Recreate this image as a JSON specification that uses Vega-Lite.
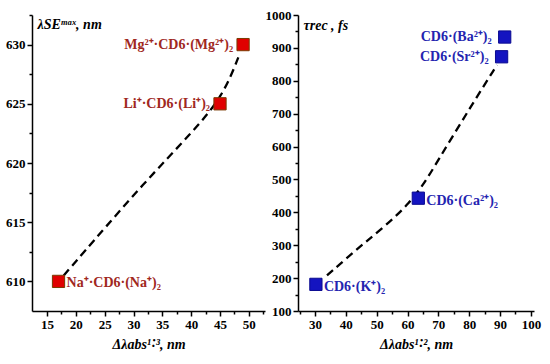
{
  "$schema": "https://vega.github.io/schema/vega-lite/v6.json",
  "padding": {"left": 5, "top": 9, "right": 5, "bottom": 3},
  "spacing": 0,
  "datasets": {
    "leftPts": [
      {"x": 17, "y": 610, "ion": "Na", "label": "Na⁺·CD6·(Na⁺)₂"},
      {"x": 45, "y": 625, "ion": "Li", "label": "Li⁺·CD6·(Li⁺)₂"},
      {"x": 49, "y": 630, "ion": "Mg", "label": "Mg²⁺·CD6·(Mg²⁺)₂"}
    ],
    "leftFit": [
      {"x": 17.9, "y": 610.5},
      {"x": 22.5, "y": 613.1},
      {"x": 31.8, "y": 618.3},
      {"x": 40, "y": 622.5},
      {"x": 45.5, "y": 625.6},
      {"x": 48.4, "y": 629.2}
    ],
    "rightPts": [
      {"x": 30.3, "y": 181, "ion": "K", "label": "CD6·(K⁺)₂"},
      {"x": 63.5, "y": 443, "ion": "Ca", "label": "CD6·(Ca²⁺)₂"},
      {"x": 90.5, "y": 873, "ion": "Sr", "label": "CD6·(Sr²⁺)₂"},
      {"x": 91.5, "y": 933, "ion": "Ba", "label": "CD6·(Ba²⁺)₂"}
    ],
    "rightFit": [
      {"x": 33.9, "y": 208},
      {"x": 45, "y": 300},
      {"x": 61.5, "y": 425},
      {"x": 70, "y": 560},
      {"x": 81, "y": 729},
      {"x": 89, "y": 848}
    ]
  },
  "hconcat": [
    {
      "width": 233,
      "height": 296,
      "layer": [
        {
          "data": {"name": "leftFit"},
          "mark": {"type": "line", "color": "black", "strokeWidth": 2.3, "strokeDash": [8, 5], "interpolate": "basis"},
          "encoding": {
            "x": {"field": "x", "type": "quantitative", "scale": {"domain": [12.4, 52.8], "nice": false, "zero": false},
              "axis": {
                "values": [15, 17.5, 20, 22.5, 25, 27.5, 30, 32.5, 35, 37.5, 40, 42.5, 45, 47.5, 50, 52.5],
                "tickCount": 100,
                "labelExpr": "datum.value % 5 === 0 ? format(datum.value, 'd') : ''",
                "labelOverlap": false,
                "labelFont": "Liberation Serif", "labelFontWeight": "bold", "labelFontSize": 13, "labelColor": "black",
                "titleFont": "Liberation Serif", "titleFontWeight": "bold", "titleFontStyle": "italic", "titleFontSize": 14, "titleColor": "black",
                "domainColor": "black", "domainWidth": 1.5, "tickColor": "black", "tickWidth": 1.5, "grid": false,
                "tickSize": {"condition": {"test": "datum.value % 5 === 0", "value": 5}, "value": 3},
                "title": "Δλabs¹˸³, nm",
                "titlePadding": 6
              }},
            "y": {"field": "y", "type": "quantitative", "scale": {"domain": [607.5, 632.5], "nice": false, "zero": false},
              "axis": {
                "values": [610, 612.5, 615, 617.5, 620, 622.5, 625, 627.5, 630, 632.5],
                "tickCount": 100,
                "labelExpr": "datum.value % 5 === 0 ? format(datum.value, 'd') : ''",
                "labelOverlap": false,
                "labelFont": "Liberation Serif", "labelFontWeight": "bold", "labelFontSize": 13, "labelColor": "black",
                "titleFont": "Liberation Serif", "titleFontWeight": "bold", "titleFontStyle": "italic", "titleFontSize": 14, "titleColor": "black",
                "domainColor": "black", "domainWidth": 1.5, "tickColor": "black", "tickWidth": 1.5, "grid": false,
                "tickSize": {"condition": {"test": "datum.value % 5 === 0", "value": 5}, "value": 3},
                "title": "λSEᵐᵃˣ, nm",
                "titleAngle": 0, "titleAlign": "left", "titleBaseline": "top", "titleX": 5, "titleY": 2
              }}
          }
        },
        {
          "data": {"name": "leftPts"},
          "mark": {"type": "square", "size": 150, "fill": "#e00000", "stroke": "#7a3a00", "strokeWidth": 1, "opacity": 1},
          "encoding": {
            "x": {"field": "x", "type": "quantitative"},
            "y": {"field": "y", "type": "quantitative"}
          }
        },
        {
          "data": {"name": "leftPts"},
          "transform": [{"filter": "datum.ion !== 'Na'"}],
          "mark": {"type": "text", "align": "right", "baseline": "middle", "dx": -10, "font": "Liberation Serif", "fontWeight": "bold", "fontSize": 14, "color": "#a0281e"},
          "encoding": {
            "x": {"field": "x", "type": "quantitative"},
            "y": {"field": "y", "type": "quantitative"},
            "text": {"field": "label"}
          }
        },
        {
          "data": {"name": "leftPts"},
          "transform": [{"filter": "datum.ion === 'Na'"}],
          "mark": {"type": "text", "align": "left", "baseline": "middle", "dx": 8, "dy": 2, "font": "Liberation Serif", "fontWeight": "bold", "fontSize": 14, "color": "#a0281e"},
          "encoding": {
            "x": {"field": "x", "type": "quantitative"},
            "y": {"field": "y", "type": "quantitative"},
            "text": {"field": "label"}
          }
        }
      ]
    },
    {
      "width": 236,
      "height": 296,
      "layer": [
        {
          "data": {"name": "rightFit"},
          "mark": {"type": "line", "color": "black", "strokeWidth": 2.3, "strokeDash": [8, 5], "interpolate": "basis"},
          "encoding": {
            "x": {"field": "x", "type": "quantitative", "scale": {"domain": [24.5, 101], "nice": false, "zero": false},
              "axis": {
                "values": [25, 30, 35, 40, 45, 50, 55, 60, 65, 70, 75, 80, 85, 90, 95, 100],
                "tickCount": 100,
                "labelExpr": "datum.value % 10 === 0 ? format(datum.value, 'd') : ''",
                "labelOverlap": false,
                "labelFont": "Liberation Serif", "labelFontWeight": "bold", "labelFontSize": 13, "labelColor": "black",
                "titleFont": "Liberation Serif", "titleFontWeight": "bold", "titleFontStyle": "italic", "titleFontSize": 14, "titleColor": "black",
                "domainColor": "black", "domainWidth": 1.5, "tickColor": "black", "tickWidth": 1.5, "grid": false,
                "tickSize": {"condition": {"test": "datum.value % 10 === 0", "value": 5}, "value": 3},
                "title": "Δλabs¹˸², nm",
                "titlePadding": 6
              }},
            "y": {"field": "y", "type": "quantitative", "scale": {"domain": [100, 1000], "nice": false, "zero": false},
              "axis": {
                "values": [100, 150, 200, 250, 300, 350, 400, 450, 500, 550, 600, 650, 700, 750, 800, 850, 900, 950, 1000],
                "tickCount": 100,
                "labelExpr": "datum.value % 100 === 0 ? format(datum.value, 'd') : ''",
                "labelOverlap": false,
                "labelFont": "Liberation Serif", "labelFontWeight": "bold", "labelFontSize": 13, "labelColor": "black",
                "titleFont": "Liberation Serif", "titleFontWeight": "bold", "titleFontStyle": "italic", "titleFontSize": 14, "titleColor": "black",
                "domainColor": "black", "domainWidth": 1.5, "tickColor": "black", "tickWidth": 1.5, "grid": false,
                "tickSize": {"condition": {"test": "datum.value % 100 === 0", "value": 5}, "value": 3},
                "title": "τrec , fs",
                "titleAngle": 0, "titleAlign": "left", "titleBaseline": "top", "titleX": 5, "titleY": 3
              }}
          }
        },
        {
          "data": {"name": "rightPts"},
          "mark": {"type": "square", "size": 150, "fill": "#1414c0", "stroke": "#0a0a90", "strokeWidth": 1, "opacity": 1},
          "encoding": {
            "x": {"field": "x", "type": "quantitative"},
            "y": {"field": "y", "type": "quantitative"}
          }
        },
        {
          "data": {"name": "rightPts"},
          "transform": [{"filter": "datum.ion === 'Sr' || datum.ion === 'Ba'"}],
          "mark": {"type": "text", "align": "right", "baseline": "middle", "dx": -13, "font": "Liberation Serif", "fontWeight": "bold", "fontSize": 14, "color": "#2424b0"},
          "encoding": {
            "x": {"field": "x", "type": "quantitative"},
            "y": {"field": "y", "type": "quantitative"},
            "text": {"field": "label"}
          }
        },
        {
          "data": {"name": "rightPts"},
          "transform": [{"filter": "datum.ion === 'K' || datum.ion === 'Ca'"}],
          "mark": {"type": "text", "align": "left", "baseline": "middle", "dx": 8, "dy": 3, "font": "Liberation Serif", "fontWeight": "bold", "fontSize": 14, "color": "#2424b0"},
          "encoding": {
            "x": {"field": "x", "type": "quantitative"},
            "y": {"field": "y", "type": "quantitative"},
            "text": {"field": "label"}
          }
        }
      ]
    }
  ],
  "config": {
    "view": {"stroke": null}
  }
}
